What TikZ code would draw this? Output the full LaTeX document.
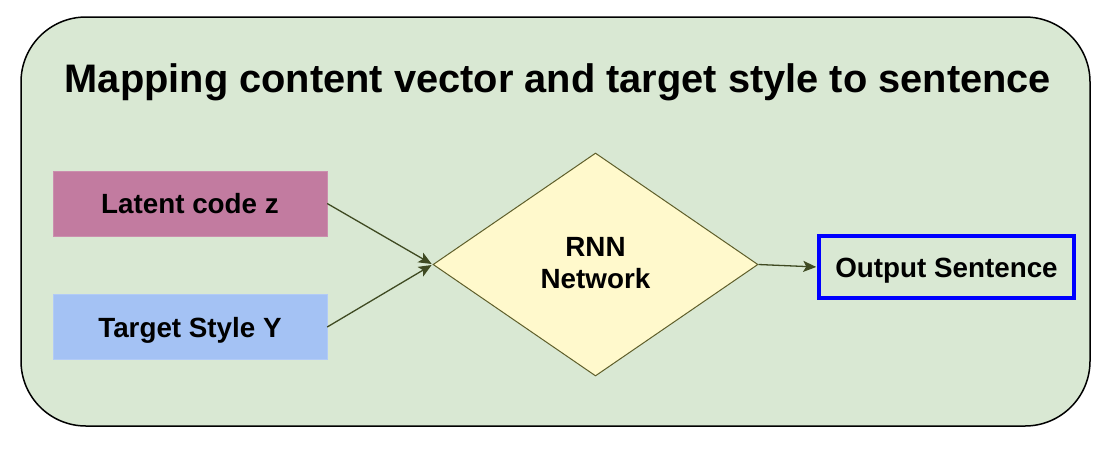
\documentclass[tikz,border=0pt]{standalone}
\usepackage{fontspec}
\setmainfont{Liberation Sans}
\usetikzlibrary{shapes.geometric,arrows.meta}
\definecolor{bggreen}{HTML}{D9E8D3}
\definecolor{latfill}{HTML}{C27BA0}
\definecolor{tgtfill}{HTML}{A4C2F4}
\definecolor{rnnfill}{HTML}{FFF9CC}
\definecolor{rnnline}{HTML}{5E5E2A}
\definecolor{arrowc}{HTML}{3F4A22}
\definecolor{outblue}{HTML}{0000FF}
\tikzset{
  inbox/.style={rectangle, minimum width=274pt, minimum height=65pt, inner sep=0pt, text height=20pt, text depth=0pt, font=\fontsize{27.8}{32}\selectfont\bfseries},
  conn/.style={draw=arrowc, line width=1.3pt, -{Stealth[length=13pt,width=11pt,inset=3pt]}, shorten >=1pt},
}
\begin{document}
\begin{tikzpicture}[x=1pt,y=-1pt]
\useasboundingbox (0,0) rectangle (1113,451);
\draw[fill=bggreen, line width=1.5pt, rounded corners=65pt] (21,17) rectangle (1090,426);
\node[font=\fontsize{39.8}{44}\selectfont\bfseries] (title) at (558,82) {Mapping content vector and target style to sentence};
\node[inbox, fill=latfill, draw=latfill!85!white] (lat) at (190,203.5) {Latent code z};
\node[inbox, fill=tgtfill, draw=tgtfill!85!white] (tgt) at (190,327) {Target Style Y};
\node[diamond, aspect=1.457, minimum width=325pt, minimum height=223pt, inner sep=0pt, fill=rnnfill, draw=rnnline, line width=1pt] (rnn) at (595.5,264.5) {};
\node[align=center, font=\fontsize{27.8}{31.5}\selectfont\bfseries, text height=20pt, text depth=0pt] (rnntext) at (595.5,278) {RNN\\Network};
\node[rectangle, minimum width=255pt, minimum height=62pt, inner sep=0pt, text height=20pt, text depth=0pt, draw=outblue, line width=3.5pt, font=\fontsize{27.8}{32}\selectfont\bfseries] (out) at (946.5,267) {Output Sentence};
\draw[conn] (lat.east) -- (rnn.west);
\draw[conn] (tgt.east) -- (rnn.west);
\draw[conn] (rnn.east) -- (out.west);
\end{tikzpicture}
\end{document}
